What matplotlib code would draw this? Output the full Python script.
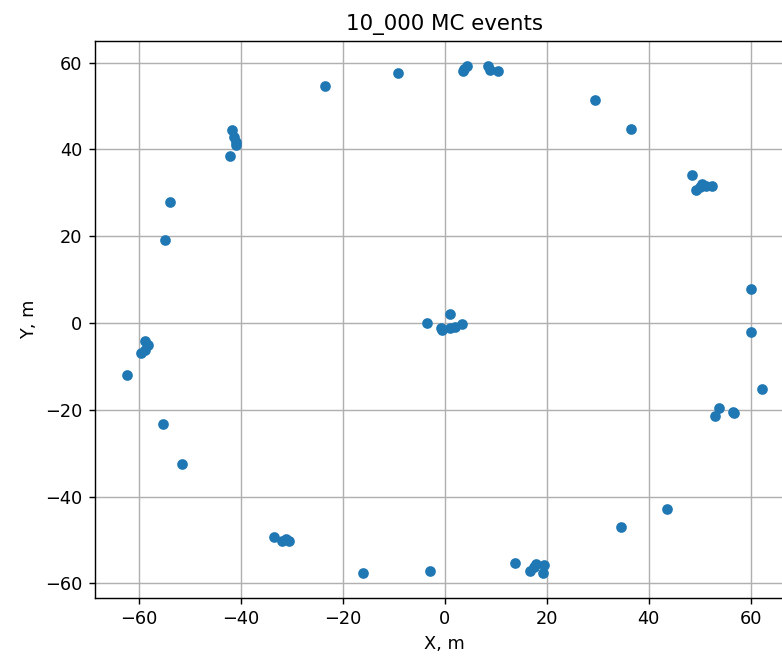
import matplotlib
matplotlib.use('Agg')
import matplotlib.pyplot as plt

# Positions des evenements simules (m)
x_ev = [-23.4, -41.7, -41.3, -41.0, -40.9, -42.1, -53.8,
        -9.1, 3.5, 4.3, 3.8, 8.5, 8.9, 10.4, 29.4,
        36.6, 48.5, 49.2, 50.5, 51.3, 52.3, 50.0,
        -54.8, -58.7, -58.3, -58.7, -59.6, -62.3,
        -3.4, 1.1, -0.5, -0.75, 1.1, 1.9, 3.4,
        60.0, 60.0, 62.2, 53.8, 53.0, 56.8, 56.5,
        -55.3, -51.6, -33.5, -32.0, -31.1, -30.5,
        -16.1, -2.9, 13.7, 16.8, 17.4, 17.8, 19.5, 19.2,
        34.6, 43.6]
y_ev = [54.7, 44.5, 42.9, 41.8, 41.0, 38.5, 27.9,
        57.7, 58.0, 59.2, 58.5, 59.2, 58.2, 58.0, 51.4,
        44.8, 34.2, 30.7, 32.0, 31.6, 31.6, 31.4,
        19.2, -4.1, -5.1, -6.1, -6.8, -11.9,
        0.0, 2.1, -1.7, -1.2, -1.1, -0.8, -0.2,
        7.9, -2.1, -15.3, -19.5, -21.5, -20.8, -20.6,
        -23.3, -32.5, -49.4, -50.3, -49.7, -50.3,
        -57.5, -57.1, -55.2, -57.2, -56.2, -55.5, -55.7, -57.6,
        -47.1, -42.8]

fig = plt.figure(figsize=(782/128, 659/128), dpi=128)
ax = fig.add_axes([0.1215, 0.093, 0.894, 0.8448])
ax.plot(x_ev, y_ev, 'o', color='#1f77b4', ms=5)
ax.set_xlim(-68.6, 68.5)
ax.set_ylim(-63.3, 65.0)
ax.set_xlabel('X, m')
ax.set_ylabel('Y, m')
ax.set_title('10_000 MC events')
ax.grid(True)

fig.savefig('out.png', dpi=128)
